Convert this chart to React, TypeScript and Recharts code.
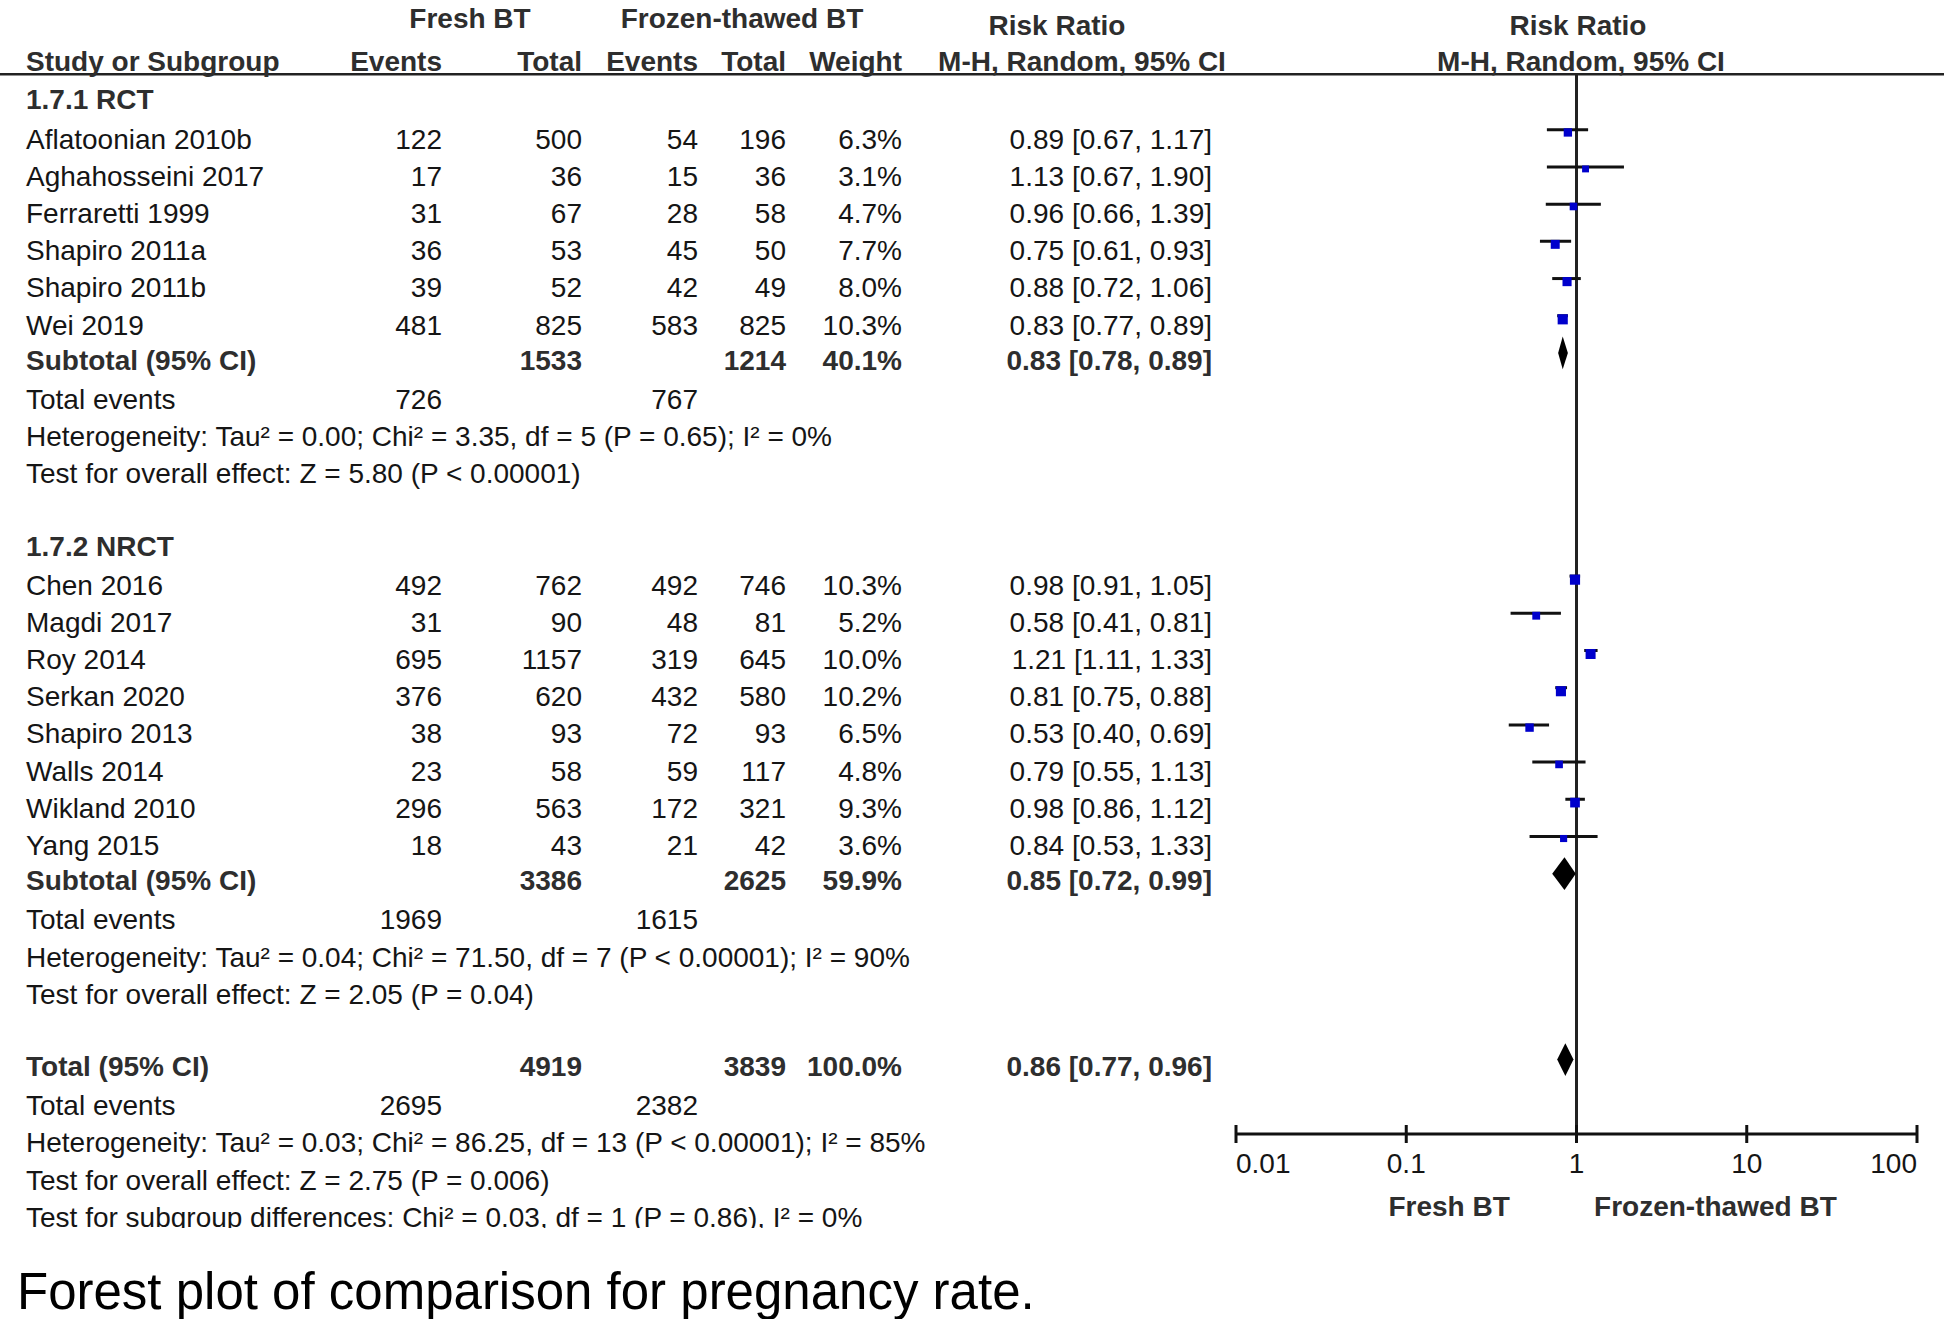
import React from 'react';
import { ScatterChart, ComposedChart, Scatter, XAxis, YAxis, ReferenceLine, ErrorBar } from 'recharts';

// values
const RCT_STUDIES = ['Aflatoonian 2010b', 'Aghahosseini 2017', 'Ferraretti 1999', 'Shapiro 2011a', 'Shapiro 2011b', 'Wei 2019'];
const RCT_FRESH_EVENTS = [122, 17, 31, 36, 39, 481];
const RCT_FRESH_TOTAL = [500, 36, 67, 53, 52, 825];
const RCT_FROZEN_EVENTS = [54, 15, 28, 45, 42, 583];
const RCT_FROZEN_TOTAL = [196, 36, 58, 50, 49, 825];
const RCT_WEIGHT = [6.3, 3.1, 4.7, 7.7, 8.0, 10.3];
const RCT_RR = [0.89, 1.13, 0.96, 0.75, 0.88, 0.83];
const RCT_LOW = [0.67, 0.67, 0.66, 0.61, 0.72, 0.77];
const RCT_HIGH = [1.17, 1.9, 1.39, 0.93, 1.06, 0.89];

const NRCT_STUDIES = ['Chen 2016', 'Magdi 2017', 'Roy 2014', 'Serkan 2020', 'Shapiro 2013', 'Walls 2014', 'Wikland 2010', 'Yang 2015'];
const NRCT_FRESH_EVENTS = [492, 31, 695, 376, 38, 23, 296, 18];
const NRCT_FRESH_TOTAL = [762, 90, 1157, 620, 93, 58, 563, 43];
const NRCT_FROZEN_EVENTS = [492, 48, 319, 432, 72, 59, 172, 21];
const NRCT_FROZEN_TOTAL = [746, 81, 645, 580, 93, 117, 321, 42];
const NRCT_WEIGHT = [10.3, 5.2, 10.0, 10.2, 6.5, 4.8, 9.3, 3.6];
const NRCT_RR = [0.98, 0.58, 1.21, 0.81, 0.53, 0.79, 0.98, 0.84];
const NRCT_LOW = [0.91, 0.41, 1.11, 0.75, 0.4, 0.55, 0.86, 0.53];
const NRCT_HIGH = [1.05, 0.81, 1.33, 0.88, 0.69, 1.13, 1.12, 1.33];

// pooled rows: RCT subtotal, NRCT subtotal, overall total
const POOLED_LABELS = ['Subtotal (95% CI)', 'Subtotal (95% CI)', 'Total (95% CI)'];
const POOLED_FRESH_TOTAL = [1533, 3386, 4919];
const POOLED_FROZEN_TOTAL = [1214, 2625, 3839];
const POOLED_WEIGHT = [40.1, 59.9, 100.0];
const POOLED_RR = [0.83, 0.85, 0.86];
const POOLED_LOW = [0.78, 0.72, 0.77];
const POOLED_HIGH = [0.89, 0.99, 0.96];
const POOLED_FRESH_EVENTS = [726, 1969, 2695];
const POOLED_FROZEN_EVENTS = [767, 1615, 2382];
const HETEROGENEITY = [
    'Heterogeneity: Tau² = 0.00; Chi² = 3.35, df = 5 (P = 0.65); I² = 0%',
    'Heterogeneity: Tau² = 0.04; Chi² = 71.50, df = 7 (P < 0.00001); I² = 90%',
    'Heterogeneity: Tau² = 0.03; Chi² = 86.25, df = 13 (P < 0.00001); I² = 85%'
];
const OVERALL_EFFECT = [
    'Test for overall effect: Z = 5.80 (P < 0.00001)',
    'Test for overall effect: Z = 2.05 (P = 0.04)',
    'Test for overall effect: Z = 2.75 (P = 0.006)'
];
const SUBGROUP_TEST = 'Test for subgroup differences: Chi² = 0.03, df = 1 (P = 0.86), I² = 0%';
const GROUP_LABELS = ['1.7.1 RCT', '1.7.2 NRCT'];
const AXIS_TICKS = [0.01, 0.1, 1, 10, 100];
const FAVOURS = ['Fresh BT', 'Frozen-thawed BT'];
const CAPTION = 'Forest plot of comparison for pregnancy rate.';

const W = 1946;
const H = 1319;
const FONT = '"Liberation Sans", Arial, Helvetica, sans-serif';
const FS = 28;
const INK = '#151515';
const INK_BOLD = '#2e2e2e';
const BLUE = '#0000cc';

// column anchors of the table (px)
const COL = {
    study: 26,
    freshEv: 442,
    freshTot: 582,
    frozEv: 698,
    frozTot: 786,
    weight: 902,
    rr: 1212,
    rrHead: 1070,
    freshHead: 470,
    frozHead: 742,
    plotHead: 1578
};

const GROUPS = [
    { label: GROUP_LABELS[0], names: RCT_STUDIES, fe: RCT_FRESH_EVENTS, ft: RCT_FRESH_TOTAL, ze: RCT_FROZEN_EVENTS, zt: RCT_FROZEN_TOTAL, w: RCT_WEIGHT, rr: RCT_RR, lo: RCT_LOW, hi: RCT_HIGH },
    { label: GROUP_LABELS[1], names: NRCT_STUDIES, fe: NRCT_FRESH_EVENTS, ft: NRCT_FRESH_TOTAL, ze: NRCT_FROZEN_EVENTS, zt: NRCT_FROZEN_TOTAL, w: NRCT_WEIGHT, rr: NRCT_RR, lo: NRCT_LOW, hi: NRCT_HIGH }
];

const pooledRow = (i: number, row: number) => ({
    row, col: 0, kind: 'pooled', name: POOLED_LABELS[i], ft: POOLED_FRESH_TOTAL[i], zt: POOLED_FROZEN_TOTAL[i],
    w: POOLED_WEIGHT[i], rr: POOLED_RR[i], lo: POOLED_LOW[i], hi: POOLED_HIGH[i]
});

// table rows, one per line of the figure
const ROWS: any[] = [{ row: -2, col: 0, kind: 'head1' }, { row: -1, col: 0, kind: 'head2' }];
let r = 0;
GROUPS.forEach((g, gi) => {
    ROWS.push({ row: r++, col: 0, kind: 'group', text: g.label });
    g.names.forEach((name, i) => {
        ROWS.push({ row: r++, col: 0, kind: 'study', name, fe: g.fe[i], ft: g.ft[i], ze: g.ze[i], zt: g.zt[i], w: g.w[i], rr: g.rr[i], lo: g.lo[i], hi: g.hi[i] });
    });
    ROWS.push(pooledRow(gi, r++));
    ROWS.push({ row: r++, col: 0, kind: 'events', fe: POOLED_FRESH_EVENTS[gi], ze: POOLED_FROZEN_EVENTS[gi] });
    ROWS.push({ row: r++, col: 0, kind: 'note', text: HETEROGENEITY[gi] });
    ROWS.push({ row: r++, col: 0, kind: 'note', text: OVERALL_EFFECT[gi] });
    r++;
});
ROWS.push(pooledRow(2, r++));
ROWS.push({ row: r++, col: 0, kind: 'events', fe: POOLED_FRESH_EVENTS[2], ze: POOLED_FROZEN_EVENTS[2] });
ROWS.push({ row: r++, col: 0, kind: 'note', text: HETEROGENEITY[2] });
ROWS.push({ row: r++, col: 0, kind: 'note', text: OVERALL_EFFECT[2] });
ROWS.push({ row: r++, col: 0, kind: 'note', text: SUBGROUP_TEST });

const STUDY_POINTS = ROWS.filter((d) => d.kind === 'study').map((d) => ({
    rr: d.rr, row: d.row, w: d.w, err: [d.rr - d.lo, d.hi - d.rr]
}));

const DIAMOND_HALF = 0.44;
const DIAMONDS = ROWS.filter((d) => d.kind === 'pooled').map((d) => [
    { rr: d.lo, row: d.row },
    { rr: d.rr, row: d.row - DIAMOND_HALF },
    { rr: d.hi, row: d.row },
    { rr: d.rr, row: d.row + DIAMOND_HALF }
]);

const f2 = (v: number) => v.toFixed(2);
const ci = (d: any) => `${f2(d.rr)} [${f2(d.lo)}, ${f2(d.hi)}]`;

function T({ x, y, anchor = 'start', bold = false, size = FS, children }: any) {
    return (
        <text x={x} y={y} textAnchor={anchor} dominantBaseline="central" fontFamily={FONT}
            fontSize={size} fontWeight={bold ? 700 : 400} fill={bold ? INK_BOLD : INK}>
            {children}
        </text>
    );
}

function TableRow(props: any) {
    const { cy, payload: d } = props;
    const y = cy + 9;
    const yb = cy + 7;
    switch (d.kind) {
        case 'head1':
            return (
                <g>
                    <T x={COL.freshHead} y={cy} anchor="middle" bold>Fresh BT</T>
                    <T x={COL.frozHead} y={cy} anchor="middle" bold>Frozen-thawed BT</T>
                    <T x={COL.rrHead - 13} y={cy + 7} anchor="middle" bold>Risk Ratio</T>
                    <T x={COL.plotHead} y={cy + 7} anchor="middle" bold>Risk Ratio</T>
                </g>
            );
        case 'head2':
            return (
                <g>
                    <T x={COL.study} y={cy + 6} bold>Study or Subgroup</T>
                    <T x={COL.freshEv} y={cy + 6} anchor="end" bold>Events</T>
                    <T x={COL.freshTot} y={cy + 6} anchor="end" bold>Total</T>
                    <T x={COL.frozEv} y={cy + 6} anchor="end" bold>Events</T>
                    <T x={COL.frozTot} y={cy + 6} anchor="end" bold>Total</T>
                    <T x={COL.weight} y={cy + 6} anchor="end" bold>Weight</T>
                    <T x={COL.rrHead + 12} y={cy + 6} anchor="middle" bold>M-H, Random, 95% CI</T>
                    <T x={COL.plotHead + 3} y={cy + 6} anchor="middle" bold>M-H, Random, 95% CI</T>
                </g>
            );
        case 'group':
            return <T x={COL.study} y={yb} bold>{d.text}</T>;
        case 'study':
            return (
                <g>
                    <T x={COL.study} y={y}>{d.name}</T>
                    <T x={COL.freshEv} y={y} anchor="end">{d.fe}</T>
                    <T x={COL.freshTot} y={y} anchor="end">{d.ft}</T>
                    <T x={COL.frozEv} y={y} anchor="end">{d.ze}</T>
                    <T x={COL.frozTot} y={y} anchor="end">{d.zt}</T>
                    <T x={COL.weight} y={y} anchor="end">{`${d.w.toFixed(1)}%`}</T>
                    <T x={COL.rr} y={y} anchor="end">{ci(d)}</T>
                </g>
            );
        case 'pooled':
            return (
                <g>
                    <T x={COL.study} y={yb} bold>{d.name}</T>
                    <T x={COL.freshTot} y={yb} anchor="end" bold>{d.ft}</T>
                    <T x={COL.frozTot} y={yb} anchor="end" bold>{d.zt}</T>
                    <T x={COL.weight} y={yb} anchor="end" bold>{`${d.w.toFixed(1)}%`}</T>
                    <T x={COL.rr} y={yb} anchor="end" bold>{ci(d)}</T>
                </g>
            );
        case 'events':
            return (
                <g>
                    <T x={COL.study} y={y}>Total events</T>
                    <T x={COL.freshEv} y={y} anchor="end">{d.fe}</T>
                    <T x={COL.frozEv} y={y} anchor="end">{d.ze}</T>
                </g>
            );
        default:
            return <T x={COL.study} y={y}>{d.text}</T>;
    }
}

function StudyMark(props: any) {
    const { cx, cy, payload } = props;
    const s = 5.5 + 0.45 * payload.w;
    return <rect x={cx - s / 2} y={cy - 1.5} width={s} height={s} fill={BLUE} />;
}

function DiamondLine(props: any) {
    const pts = (props.points || []).map((p: any) => `${p.x},${p.y}`).join(' ');
    return <polygon points={pts} fill="#000" stroke="none" />;
}

function AxisTick(props: any) {
    const { x, y, payload } = props;
    const v = payload.value;
    const anchor = v === AXIS_TICKS[0] ? 'start' : v === AXIS_TICKS[AXIS_TICKS.length - 1] ? 'end' : 'middle';
    return (
        <g>
            <line x1={x} x2={x} y1={y - 9} y2={y + 9} stroke="#111" strokeWidth={3} />
            <T x={x} y={y + 29} anchor={anchor}>{String(v)}</T>
        </g>
    );
}

function FavoursLabel(props: any) {
    const vb = props.viewBox || {};
    if (vb.x == null) return null;
    return (
        <g>
            <T x={vb.x + vb.width * 0.313} y={vb.y + 72} anchor="middle" bold>{FAVOURS[0]}</T>
            <T x={vb.x + vb.width * 0.704} y={vb.y + 72} anchor="middle" bold>{FAVOURS[1]}</T>
        </g>
    );
}

export default function App() {
    return (
        <div style={{ position: 'absolute', left: 0, top: 0, width: W, height: H, background: '#fff', overflow: 'hidden' }}>
            <div style={{ position: 'absolute', left: 0, top: 0 }}>
                <ScatterChart width={W} height={H} margin={{ top: 0, right: 2, bottom: 55, left: 0 }}>
                    <XAxis hide type="number" dataKey="col" domain={[0, 1]} height={0} />
                    <YAxis hide type="number" dataKey="row" domain={[-2.5, 31.5]} reversed width={0} />
                    <ReferenceLine y={-0.5} stroke="#222" strokeWidth={2.5} />
                    <Scatter data={ROWS} shape={TableRow} isAnimationActive={false} />
                </ScatterChart>
            </div>
            <div style={{ position: 'absolute', left: 0, top: 0 }}>
                <ComposedChart width={W} height={H} margin={{ top: 74, right: 29, bottom: 125, left: 1236 }}>
                    <XAxis
                        type="number"
                        dataKey="rr"
                        scale="log"
                        domain={[0.01, 100]}
                        ticks={AXIS_TICKS}
                        interval={0}
                        tickLine={false}
                        tickSize={0}
                        tickMargin={0}
                        height={60}
                        axisLine={{ stroke: '#111', strokeWidth: 3 }}
                        tick={<AxisTick />}
                        label={FavoursLabel}
                    />
                    <YAxis hide type="number" dataKey="row" domain={[-0.5, 28]} reversed width={0} />
                    <ReferenceLine x={1} stroke="#222" strokeWidth={3} />
                    <Scatter data={STUDY_POINTS} shape={StudyMark} isAnimationActive={false}>
                        <ErrorBar dataKey="err" direction="x" width={0} stroke="#111" strokeWidth={3} isAnimationActive={false} />
                    </Scatter>
                    {DIAMONDS.map((pts, i) => (
                        <Scatter key={i} data={pts} shape={() => <g />} line={DiamondLine} isAnimationActive={false} />
                    ))}
                </ComposedChart>
            </div>
            {/* the source figure is cropped through the last footnote line */}
            <div style={{ position: 'absolute', left: 0, top: 1228, width: 1220, height: 24, background: '#fff' }} />
            <div style={{ position: 'absolute', left: 17, top: 1267, fontFamily: FONT, fontSize: 51, lineHeight: '50px', color: '#000', whiteSpace: 'nowrap' }}>
                {CAPTION}
            </div>
        </div>
    );
}
